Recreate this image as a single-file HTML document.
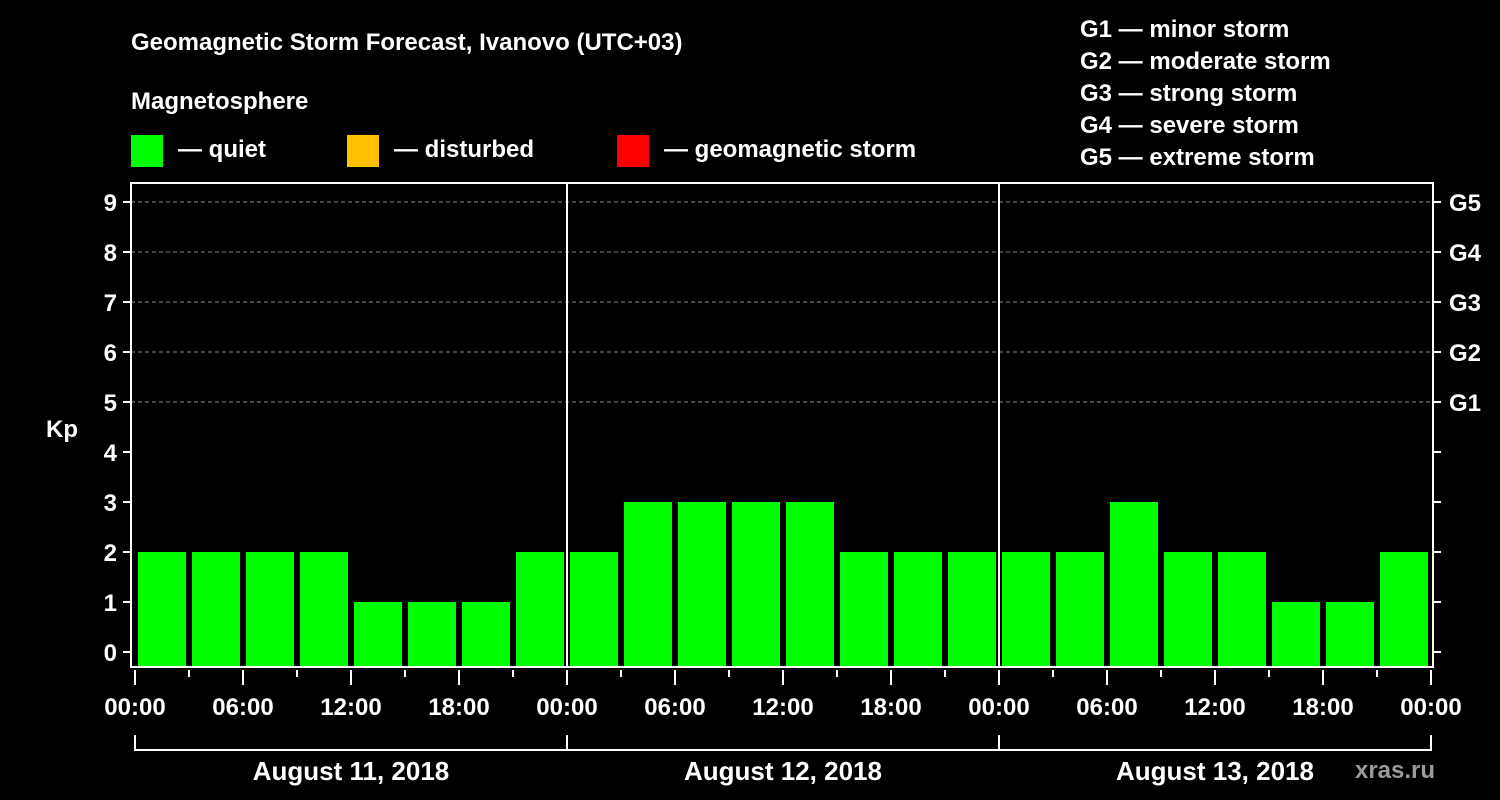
<!DOCTYPE html>
<html><head><meta charset="utf-8"><style>
body{margin:0;background:#000;width:1500px;height:800px;overflow:hidden}
svg{display:block;font-family:"Liberation Sans",Arial,sans-serif;font-weight:bold;fill:#fff}
</style></head><body>
<svg id="c" width="1500" height="800" xmlns="http://www.w3.org/2000/svg">
<text x="131" y="50" font-size="24">Geomagnetic Storm Forecast, Ivanovo (UTC+03)</text>
<text x="131" y="109" font-size="24">Magnetosphere</text>
<g><rect x="131" y="135" width="32" height="32" fill="#00ff00"/><text x="178" y="157" font-size="24">— quiet</text></g>
<g><rect x="347" y="135" width="32" height="32" fill="#ffc000"/><text x="394" y="157" font-size="24">— disturbed</text></g>
<g><rect x="617" y="135" width="32" height="32" fill="#ff0000"/><text x="664" y="157" font-size="24">— geomagnetic storm</text></g>
<g font-size="24">
<text x="1080" y="37">G1 — minor storm</text>
<text x="1080" y="69">G2 — moderate storm</text>
<text x="1080" y="101">G3 — strong storm</text>
<text x="1080" y="133">G4 — severe storm</text>
<text x="1080" y="165">G5 — extreme storm</text>
</g>
<text x="62" y="437" font-size="24" text-anchor="middle">Kp</text>
<text x="1395" y="778" font-size="24" fill="#aaa" style="fill:#9a9a9a" text-anchor="middle">xras.ru</text>
<g id="grid"></g><g id="bars"></g><g id="axes"></g>
</svg>
<script>
const kpValues=[2,2,2,2,1,1,1,2, 2,3,3,3,3,2,2,2, 2,2,3,2,2,1,1,2];
const dayLabels=["August 11, 2018","August 12, 2018","August 13, 2018"];
const timeLabels=["00:00","06:00","12:00","18:00"];
const yTicks=[0,1,2,3,4,5,6,7,8,9];
const gLabels=["G1","G2","G3","G4","G5"];
const NS="http://www.w3.org/2000/svg";
const L=131,R=1433,T=183,B=667,X0=135,SLOT=54;
const y=v=>652-50*v;
const x=i=>X0+SLOT*i;
function mk(tag,attrs,parent,txt){const e=document.createElementNS(NS,tag);for(const k in attrs)e.setAttribute(k,attrs[k]);if(txt!==undefined)e.textContent=txt;parent.appendChild(e);return e;}
const grid=document.getElementById('grid'),bars=document.getElementById('bars'),axes=document.getElementById('axes');
yTicks.forEach(v=>{
 if(v>=5){const g=mk('line',{x1:L,x2:R,y1:y(v),y2:y(v),stroke:'#888','stroke-width':1,'stroke-dasharray':'4,3'},grid);
 
 }
 const t=mk('line',{x1:L-8,x2:L,y1:y(v),y2:y(v),stroke:'#fff','stroke-width':2},axes);
 
 
 const lb=mk('text',{x:L-14,y:y(v)+9,'font-size':24,'text-anchor':'end'},axes,String(v));
 
 
 const rt=mk('line',{x1:R,x2:R+8,y1:y(v),y2:y(v),stroke:'#fff','stroke-width':2},axes);
 
 
 if(v>=5){const gl=mk('text',{x:R+16,y:y(v)+9,'font-size':24},axes,gLabels[v-5]);
 
 }
});
kpValues.forEach((v,i)=>{
 const col=v>=5?'#ff0000':(v>=4?'#ffc000':'#00ff00');
 const b=mk('rect',{x:x(i)+3,y:y(v),width:48,height:B-y(v),fill:col},bars);
 
 
});
const frame=mk('rect',{x:L,y:T,width:R-L,height:B-T,fill:'none',stroke:'#fff','stroke-width':2},axes);


for(let d=1;d<dayLabels.length;d++){const s=mk('line',{x1:x(8*d),x2:x(8*d),y1:T,y2:B,stroke:'#fff','stroke-width':2},axes);
 
 }
for(let i=0;i<=kpValues.length;i++){
 const major=i%2===0;
 const t=mk('line',{x1:x(i),x2:x(i),y1:670,y2:major?685:677,stroke:'#fff','stroke-width':2},axes);
 
 
 if(major){const lb=mk('text',{x:x(i),y:715,'font-size':24,'text-anchor':'middle'},axes,timeLabels[(i/2)%4]);
 
 }
}
dayLabels.forEach((d,k)=>{
 const a=x(8*k),b=x(8*k+8);
 const br=mk('path',{d:`M${a},735V750H${b}`+(k===dayLabels.length-1?`V735`:''),fill:'none',stroke:'#fff','stroke-width':2},axes);
 
 
 const lb=mk('text',{x:(a+b)/2,y:780,'font-size':26,'text-anchor':'middle'},axes,d);
 
 
});
</script>
</body></html>
